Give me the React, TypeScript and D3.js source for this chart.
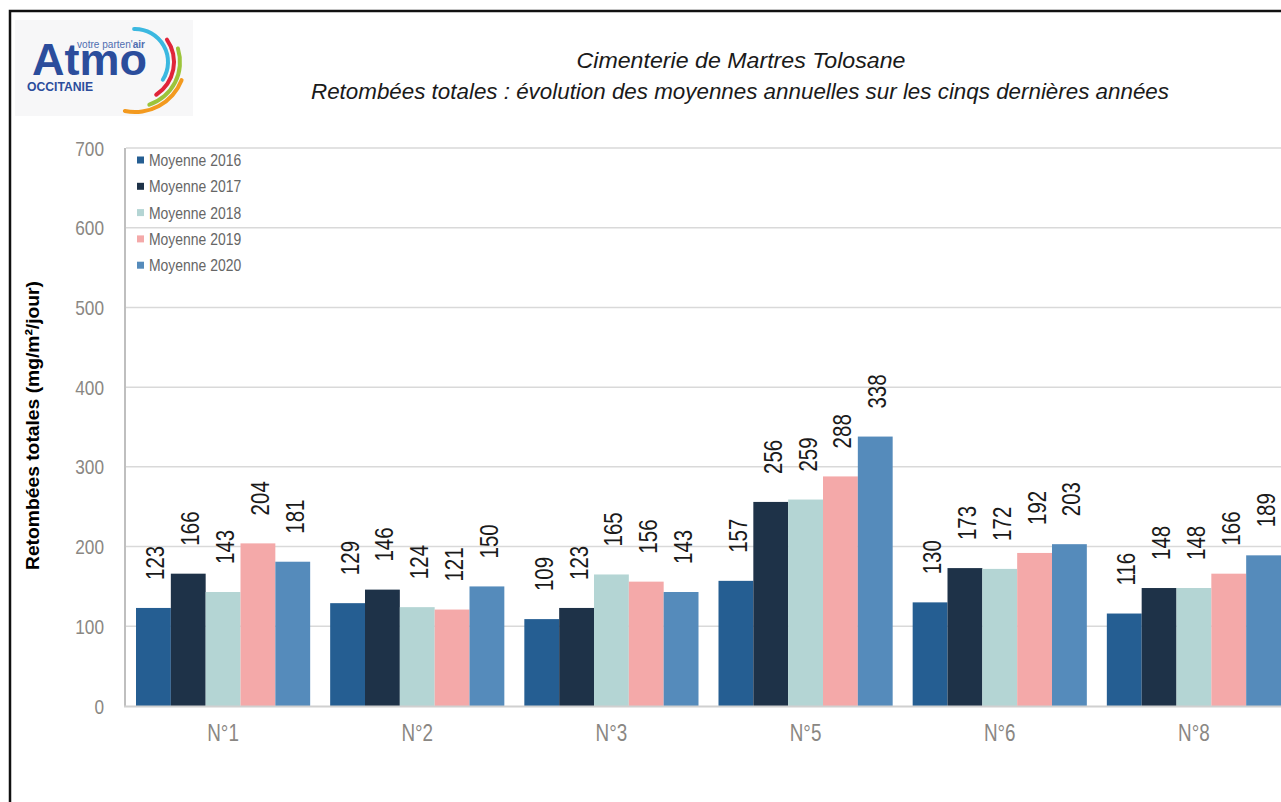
import React from "react";
import * as d3 from "d3";

const categories = ["N°1", "N°2", "N°3", "N°5", "N°6", "N°8"];
const seriesNames = ["Moyenne 2016", "Moyenne 2017", "Moyenne 2018", "Moyenne 2019", "Moyenne 2020"];
const values2016 = [123, 129, 109, 157, 130, 116];
const values2017 = [166, 146, 123, 256, 173, 148];
const values2018 = [143, 124, 165, 259, 172, 148];
const values2019 = [204, 121, 156, 288, 192, 166];
const values2020 = [181, 150, 143, 338, 203, 189];
const seriesValues = [values2016, values2017, values2018, values2019, values2020];
const seriesColors = ["#255e92", "#1e3248", "#b4d5d4", "#f4a9a9", "#558bbb"];
const yTicks = [0, 100, 200, 300, 400, 500, 600, 700];

const FONT = "'Liberation Sans', Arial, sans-serif";

function NT(props: any) {
  const { x, y, size, anchor = "start", fill = "#000", rot = 0, weight = "normal", sx = 0.82, children, style } = props;
  return (
    <text
      transform={`translate(${x},${y}) rotate(${rot}) scale(${sx},1)`}
      fontSize={size}
      textAnchor={anchor}
      fill={fill}
      fontWeight={weight}
      fontFamily={FONT}
      style={style}
    >
      {children}
    </text>
  );
}

export default function App() {
  const W = 1281;
  const H = 802;
  const left = 126;
  const y = d3.scaleLinear().domain([0, 700]).range([706, 148]);
  const x = d3.scaleBand<string>().domain(categories).range([left, 1291]).paddingInner(0.103).paddingOuter(0.0515);
  const xs = d3.scaleBand<string>().domain(seriesNames).range([0, x.bandwidth()]).padding(0);

  const logoCx = 135;
  const logoCy = 62;
  const arcs = [
    { r: 33, a0: -5, a1: 126, c: "#3bb8e0" },
    { r: 39, a0: 52, a1: 150, c: "#e0253a" },
    { r: 45, a0: 70, a1: 164, c: "#9cc43a" },
    { r: 50, a0: 109, a1: 194, c: "#f39a1f" },
  ];
  const arcGen = d3.arc<any>().cornerRadius(2);

  return (
    <svg width={W} height={H} style={{ position: "absolute", left: 0, top: 0, display: "block" }}>
      <rect x={0} y={0} width={W} height={H} fill="#fff" />
      <rect x={10} y={11} width={1400} height={1000} fill="#fff" stroke="#111" strokeWidth={2.5} />

      {/* logo */}
      <rect x={15} y={20} width={178} height={96} fill="#f7f7f8" />
      {arcs.map((a, i) => (
        <path
          key={i}
          transform={`translate(${logoCx},${logoCy})`}
          d={arcGen({ innerRadius: a.r - 2, outerRadius: a.r + 2, startAngle: (a.a0 * Math.PI) / 180, endAngle: (a.a1 * Math.PI) / 180 }) || ""}
          fill={a.c}
        />
      ))}
      <text x={32} y={75} fontSize={45} fontWeight="bold" fill="#2b4d9c" fontFamily={FONT} textLength={115} lengthAdjust="spacingAndGlyphs">Atmo</text>
      <text x={77} y={48} fontSize={10} fill="#4f6db0" fontFamily={FONT} textLength={68} lengthAdjust="spacingAndGlyphs">
        votre parten'<tspan fontWeight="bold">air</tspan>
      </text>
      <text x={27} y={91} fontSize={13} fontWeight="bold" fill="#2b4d9c" fontFamily={FONT} textLength={66} lengthAdjust="spacingAndGlyphs">OCCITANIE</text>

      {/* title */}
      <text x={741} y={68} fontSize={22} fontStyle="italic" fill="#1a1a1a" fontFamily={FONT} textAnchor="middle" textLength={329} lengthAdjust="spacingAndGlyphs">
        Cimenterie de Martres Tolosane
      </text>
      <text x={740} y={99} fontSize={22} fontStyle="italic" fill="#1a1a1a" fontFamily={FONT} textAnchor="middle" textLength={858} lengthAdjust="spacingAndGlyphs">
        Retombées totales : évolution des moyennes annuelles sur les cinqs dernières années
      </text>

      {/* gridlines */}
      {yTicks.filter((t) => t > 0).map((t) => (
        <line key={t} x1={left} x2={W} y1={y(t)} y2={y(t)} stroke="#d9d9d9" strokeWidth={1.5} />
      ))}

      {/* y tick labels */}
      {yTicks.map((t) => (
        <NT key={t} x={104} y={y(t) + 7.5} size={21} anchor="end" fill="#8a8783">{t}</NT>
      ))}

      {/* y axis title */}
      <text
        transform={`translate(38.5,${(281 + 570) / 2}) rotate(-90)`}
        fontSize={19}
        fontWeight="bold"
        fontFamily={FONT}
        textAnchor="middle"
        fill="#000"
        textLength={289}
        lengthAdjust="spacingAndGlyphs"
      >
        Retombées totales (mg/m²/jour)
      </text>

      {/* bars */}
      {categories.map((cat, ci) => (
        <g key={cat} transform={`translate(${x(cat)},0)`}>
          {seriesNames.map((s, si) => {
            const v = seriesValues[si][ci];
            const bx = xs(s) as number;
            return (
              <rect key={s} x={bx} y={y(v)} width={xs.bandwidth()} height={y(0) - y(v)} fill={seriesColors[si]} />
            );
          })}
        </g>
      ))}

      {/* axes lines */}
      <line x1={125} x2={125} y1={148} y2={707} stroke="#bfbfbf" strokeWidth={2} />
      <line x1={124} x2={W} y1={706.5} y2={706.5} stroke="#d0d0d0" strokeWidth={2} />

      {/* value labels */}
      {categories.map((cat, ci) =>
        seriesNames.map((s, si) => {
          const v = seriesValues[si][ci];
          const cx = (x(cat) as number) + (xs(s) as number) + xs.bandwidth() / 2;
          return (
            <NT key={cat + s} x={cx + 11} y={y(v) - 28} size={25} rot={-90} anchor="start" fill="#1a1a1a">{v}</NT>
          );
        })
      )}

      {/* category labels */}
      {categories.map((cat) => (
        <NT key={cat} x={(x(cat) as number) + x.bandwidth() / 2} y={741} size={23} anchor="middle" fill="#8a8783">{cat}</NT>
      ))}

      {/* legend */}
      {seriesNames.map((s, i) => {
        const cy = 160 + i * 26.3;
        return (
          <g key={s}>
            <rect x={137} y={cy - 3.5} width={7} height={7} fill={seriesColors[i]} />
            <NT x={149} y={cy + 6} size={17} fill="#666">{s}</NT>
          </g>
        );
      })}
    </svg>
  );
}
